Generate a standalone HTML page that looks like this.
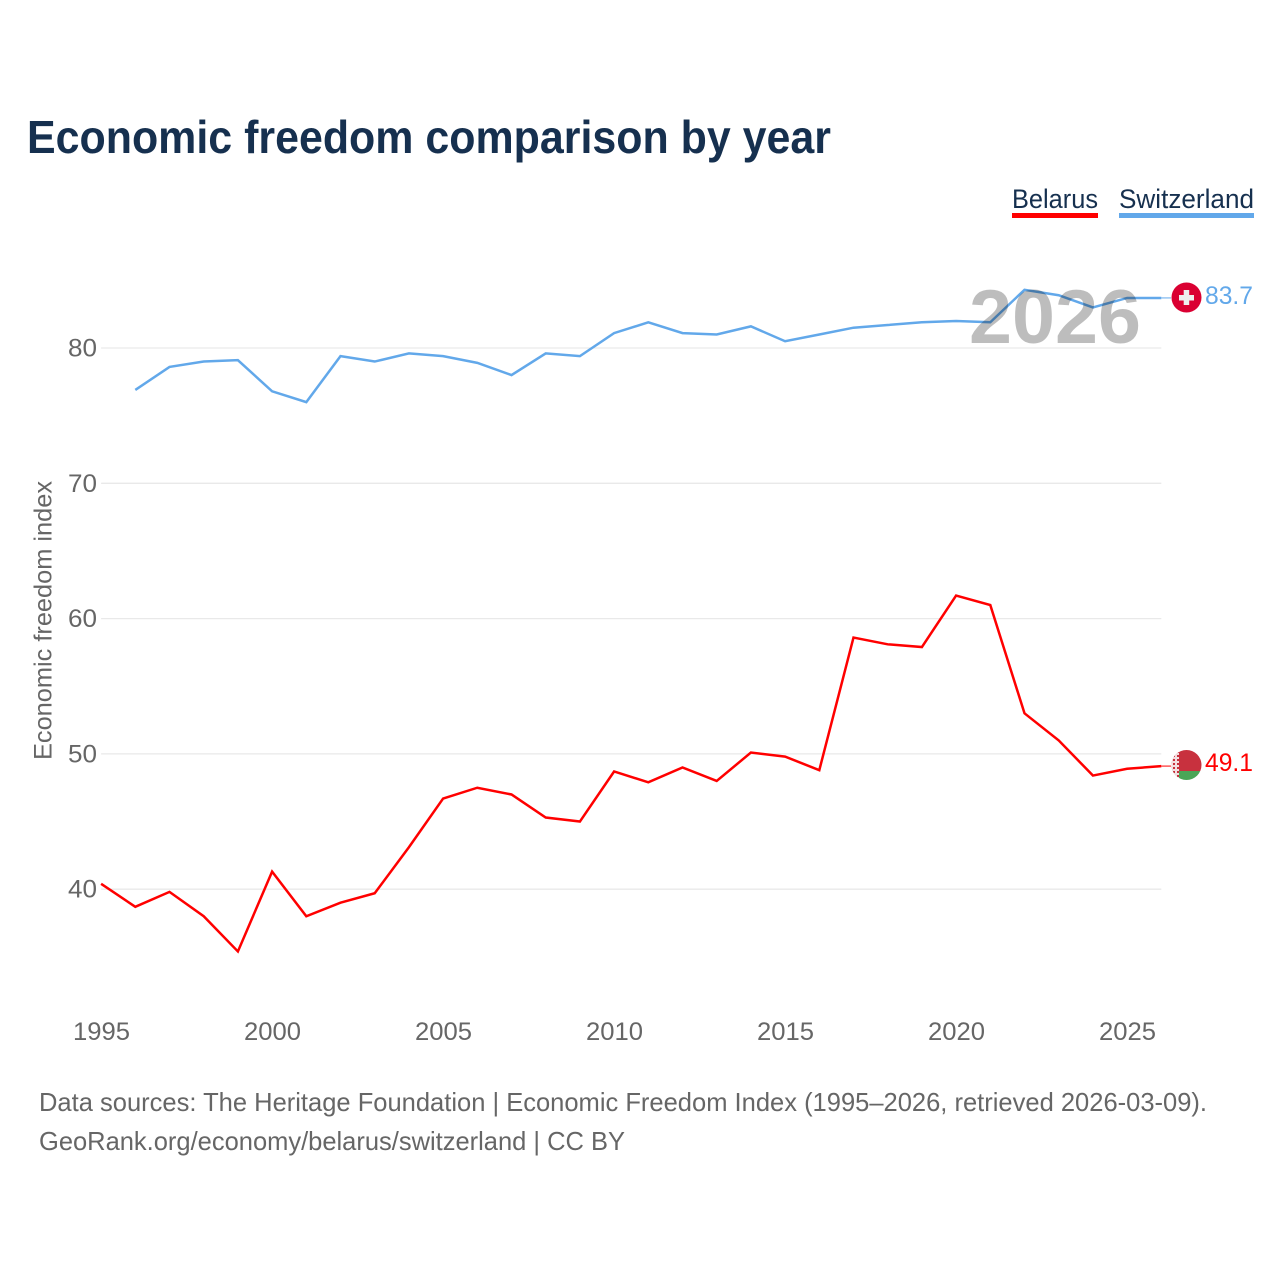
<!DOCTYPE html>
<html lang="en">
<head>
<meta charset="utf-8">
<title>Economic freedom comparison by year</title>
<style>
html,body{margin:0;padding:0;background:#fff;width:1280px;height:1280px;overflow:hidden}
svg{display:block}
text{font-family:"Liberation Sans",sans-serif}
</style>
</head>
<body>
<svg id="chart" xmlns="http://www.w3.org/2000/svg" width="1280" height="1280" viewBox="0 0 1280 1280">
  <rect width="1280" height="1280" fill="#fff"/>
  <text x="27" y="153" font-size="46" font-weight="700" fill="#16304f" textLength="804" lengthAdjust="spacingAndGlyphs">Economic freedom comparison by year</text>

  <g>
    <text x="1012" y="208" font-size="27" fill="#16304f" textLength="86" lengthAdjust="spacingAndGlyphs">Belarus</text>
    <rect x="1012" y="213" width="86" height="5" fill="#ff0000"/>
  </g>
  <g>
    <text x="1119" y="208" font-size="27" fill="#16304f" textLength="135" lengthAdjust="spacingAndGlyphs">Switzerland</text>
    <rect x="1119" y="213" width="135" height="5" fill="#62a8ea"/>
  </g>

  <g id="grid"></g>
  <g id="yticks"></g>
  <g id="xticks"></g>
  <text transform="translate(51.5,620.5) rotate(-90)" text-anchor="middle" font-size="25" fill="#666" textLength="279" lengthAdjust="spacingAndGlyphs">Economic freedom index</text>
  <g id="series"></g>

  <text x="1055" y="343" text-anchor="middle" font-size="76" font-weight="700" fill="#000" fill-opacity="0.26" textLength="172" lengthAdjust="spacingAndGlyphs">2026</text>

  <defs>
    <clipPath id="clip-ch"><circle cx="1186.5" cy="297.5" r="15"/></clipPath>
    <clipPath id="clip-by"><circle cx="1186.5" cy="765" r="15"/></clipPath>
    <pattern id="by-ornament" width="4" height="4" patternUnits="userSpaceOnUse" x="1172" y="750">
      <rect width="4" height="4" fill="#f3dfe1"/>
      <rect x="1" y="1" width="2" height="2" fill="#c8313e"/>
    </pattern>
  </defs>

  <g clip-path="url(#clip-ch)">
    <rect x="1171" y="282" width="31" height="31" fill="#da0032"/>
    <rect x="1179" y="295" width="15" height="5.5" fill="#eeeeee"/>
    <rect x="1183.7" y="290" width="5.5" height="15" fill="#eeeeee"/>
  </g>
  <g clip-path="url(#clip-by)">
    <rect x="1171" y="750" width="31" height="21" fill="#c8313e"/>
    <rect x="1171" y="771" width="31" height="9" fill="#4aa657"/>
    <rect x="1171" y="750" width="8" height="30" fill="url(#by-ornament)"/>
  </g>

  <text x="1205" y="304" font-size="25" fill="#62a8ea" textLength="48" lengthAdjust="spacingAndGlyphs">83.7</text>
  <text x="1205" y="771" font-size="25" fill="#ff0000" textLength="48" lengthAdjust="spacingAndGlyphs">49.1</text>

  <text x="39" y="1111" font-size="26" fill="#666" textLength="1168" lengthAdjust="spacingAndGlyphs">Data sources: The Heritage Foundation | Economic Freedom Index (1995–2026, retrieved 2026-03-09).</text>
  <text x="39" y="1150" font-size="26" fill="#666" textLength="586" lengthAdjust="spacingAndGlyphs">GeoRank.org/economy/belarus/switzerland | CC BY</text>
</svg>
<script>
const years = [1995,1996,1997,1998,1999,2000,2001,2002,2003,2004,2005,2006,2007,2008,2009,2010,2011,2012,2013,2014,2015,2016,2017,2018,2019,2020,2021,2022,2023,2024,2025,2026];
const belarusValues = [40.4,38.7,39.8,38.0,35.4,41.3,38.0,39.0,39.7,43.1,46.7,47.5,47.0,45.3,45.0,48.7,47.9,49.0,48.0,50.1,49.8,48.8,58.6,58.1,57.9,61.7,61.0,53.0,51.0,48.4,48.9,49.1];
const switzerlandValues = [null,76.9,78.6,79.0,79.1,76.8,76.0,79.4,79.0,79.6,79.4,78.9,78.0,79.6,79.4,81.1,81.9,81.1,81.0,81.6,80.5,81.0,81.5,81.7,81.9,82.0,81.9,84.3,83.9,83.0,83.7,83.7];
const yTickValues = [40,50,60,70,80];
const xTickValues = [1995,2000,2005,2010,2015,2020,2025];

const SVG_NS = 'http://www.w3.org/2000/svg';
function xScale(year){ return 101.1 + (year - 1995) * 34.2; }
function yScale(value){ return 889.2 - (value - 40) * 13.53; }
function make(tag, parent){
  const el = document.createElementNS(SVG_NS, tag);
  parent.appendChild(el);
  return el;
}

const gridGroup = document.getElementById('grid');
const yTickGroup = document.getElementById('yticks');
yTickValues.forEach(function(v){
  const line = make('line', gridGroup);
  
  
  line.setAttribute('x1', xScale(1995));
  line.setAttribute('x2', xScale(2026));
  line.setAttribute('y1', yScale(v));
  line.setAttribute('y2', yScale(v));
  line.setAttribute('stroke', '#e9e9e9');
  line.setAttribute('stroke-width', '1.3');
  const label = make('text', yTickGroup);
  
  
  label.setAttribute('x', 97);
  label.setAttribute('y', yScale(v) + 8.5);
  label.setAttribute('text-anchor', 'end');
  label.setAttribute('font-size', '25');
  label.setAttribute('fill', '#666');
  label.setAttribute('textLength', '29');
  label.setAttribute('lengthAdjust', 'spacingAndGlyphs');
  label.textContent = v;
});

const xTickGroup = document.getElementById('xticks');
xTickValues.forEach(function(y){
  const label = make('text', xTickGroup);
  
  
  label.setAttribute('x', xScale(y) + 0.4);
  label.setAttribute('y', 1040);
  label.setAttribute('text-anchor', 'middle');
  label.setAttribute('font-size', '25');
  label.setAttribute('fill', '#666');
  label.setAttribute('textLength', '57');
  label.setAttribute('lengthAdjust', 'spacingAndGlyphs');
  label.textContent = y;
});

const seriesGroup = document.getElementById('series');
function pointsFor(values){
  const pts = [];
  values.forEach(function(v, i){
    if (v !== null) pts.push(xScale(years[i]).toFixed(2) + ',' + yScale(v).toFixed(2));
  });
  return pts;
}
function lastY(values){ return yScale(values[values.length - 1]); }

const belarusLine = make('polyline', seriesGroup);


belarusLine.setAttribute('points', pointsFor(belarusValues).join(' '));
belarusLine.setAttribute('fill', 'none');
belarusLine.setAttribute('stroke', '#ff0000');
belarusLine.setAttribute('stroke-width', '2.5');

const switzerlandLine = make('polyline', seriesGroup);


switzerlandLine.setAttribute('points', pointsFor(switzerlandValues).join(' '));
switzerlandLine.setAttribute('fill', 'none');
switzerlandLine.setAttribute('stroke', '#62a8ea');
switzerlandLine.setAttribute('stroke-width', '2.5');

const belarusLeader = make('line', seriesGroup);


belarusLeader.setAttribute('x1', xScale(2026));
belarusLeader.setAttribute('x2', 1171);
belarusLeader.setAttribute('y1', lastY(belarusValues));
belarusLeader.setAttribute('y2', lastY(belarusValues));
belarusLeader.setAttribute('stroke', '#ff0000');
belarusLeader.setAttribute('stroke-width', '1');

const switzerlandLeader = make('line', seriesGroup);


switzerlandLeader.setAttribute('x1', xScale(2026));
switzerlandLeader.setAttribute('x2', 1171);
switzerlandLeader.setAttribute('y1', lastY(switzerlandValues));
switzerlandLeader.setAttribute('y2', lastY(switzerlandValues));
switzerlandLeader.setAttribute('stroke', '#62a8ea');
switzerlandLeader.setAttribute('stroke-width', '1');
</script>
</body>
</html>
